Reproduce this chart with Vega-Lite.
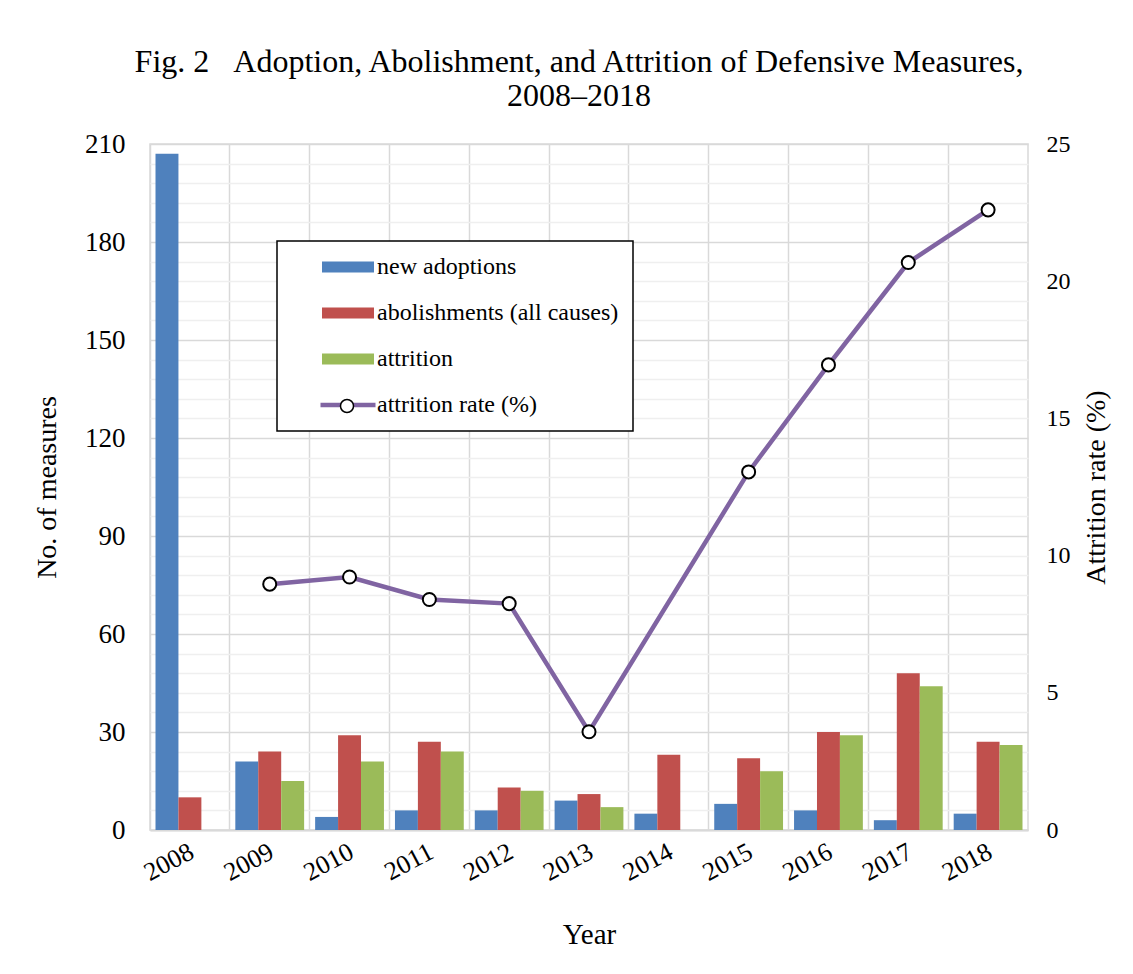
{
  "$schema": "https://vega.github.io/schema/vega-lite/v6.json",
  "autosize": {"type": "none"},
  "padding": {"left": 150, "top": 144, "right": 105, "bottom": 144},
  "width": 878,
  "height": 686,
  "background": "white",
  "title": {
    "text": ["Fig. 2\u00a0\u00a0\u00a0Adoption, Abolishment, and Attrition of Defensive Measures,", "2008\u20132018"],
    "font": "Liberation Serif",
    "fontSize": 32,
    "fontWeight": "normal",
    "color": "black",
    "anchor": "middle",
    "lineHeight": 34,
    "offset": 17,
    "dx": -10
  },
  "config": {
    "view": {"stroke": "#d9d9d9", "strokeWidth": 1.5},
    "axis": {
      "labelFont": "Liberation Serif",
      "titleFont": "Liberation Serif",
      "labelColor": "black",
      "titleColor": "black",
      "titleFontWeight": "normal",
      "ticks": false
    }
  },
  "datasets": {
    "bars": [
      {"year": "2008", "series": "new adoptions", "value": 207},
      {"year": "2008", "series": "abolishments (all causes)", "value": 10},
      {"year": "2009", "series": "new adoptions", "value": 21},
      {"year": "2009", "series": "abolishments (all causes)", "value": 24},
      {"year": "2009", "series": "attrition", "value": 15},
      {"year": "2010", "series": "new adoptions", "value": 4},
      {"year": "2010", "series": "abolishments (all causes)", "value": 29},
      {"year": "2010", "series": "attrition", "value": 21},
      {"year": "2011", "series": "new adoptions", "value": 6},
      {"year": "2011", "series": "abolishments (all causes)", "value": 27},
      {"year": "2011", "series": "attrition", "value": 24},
      {"year": "2012", "series": "new adoptions", "value": 6},
      {"year": "2012", "series": "abolishments (all causes)", "value": 13},
      {"year": "2012", "series": "attrition", "value": 12},
      {"year": "2013", "series": "new adoptions", "value": 9},
      {"year": "2013", "series": "abolishments (all causes)", "value": 11},
      {"year": "2013", "series": "attrition", "value": 7},
      {"year": "2014", "series": "new adoptions", "value": 5},
      {"year": "2014", "series": "abolishments (all causes)", "value": 23},
      {"year": "2015", "series": "new adoptions", "value": 8},
      {"year": "2015", "series": "abolishments (all causes)", "value": 22},
      {"year": "2015", "series": "attrition", "value": 18},
      {"year": "2016", "series": "new adoptions", "value": 6},
      {"year": "2016", "series": "abolishments (all causes)", "value": 30},
      {"year": "2016", "series": "attrition", "value": 29},
      {"year": "2017", "series": "new adoptions", "value": 3},
      {"year": "2017", "series": "abolishments (all causes)", "value": 48},
      {"year": "2017", "series": "attrition", "value": 44},
      {"year": "2018", "series": "new adoptions", "value": 5},
      {"year": "2018", "series": "abolishments (all causes)", "value": 27},
      {"year": "2018", "series": "attrition", "value": 26}
    ],
    "rate": [
      {"year": "2009", "rate": 8.96},
      {"year": "2010", "rate": 9.22},
      {"year": "2011", "rate": 8.4},
      {"year": "2012", "rate": 8.25},
      {"year": "2013", "rate": 3.58},
      {"year": "2015", "rate": 13.05},
      {"year": "2016", "rate": 16.95},
      {"year": "2017", "rate": 20.68},
      {"year": "2018", "rate": 22.6}
    ]
  },
  "encoding": {
    "x": {
      "field": "year",
      "type": "nominal",
      "scale": {"domain": ["2008","2009","2010","2011","2012","2013","2014","2015","2016","2017","2018"], "paddingInner": 0, "paddingOuter": 0},
      "axis": {
        "title": "Year",
        "titleFontSize": 29,
        "titlePadding": 35,
        "labelFontSize": 26,
        "labelAngle": -28,
        "labelAlign": "right",
        "labelBaseline": "top",
        "labelPadding": 8,
        "labelOffset": -4,
        "labelBound": false,
        "grid": true,
        "bandPosition": 0,
        "gridColor": "#d9d9d9",
        "gridWidth": 1.5,
        "domainColor": "#d9d9d9",
        "domainWidth": 2
      }
    }
  },
  "layer": [
    {
      "data": {"name": "bars"},
      "mark": {"type": "bar"},
      "encoding": {
        "xOffset": {
          "field": "series",
          "type": "nominal",
          "scale": {"domain": ["new adoptions", "abolishments (all causes)", "attrition"], "paddingInner": 0, "paddingOuter": 0.24}
        },
        "y": {
          "field": "value",
          "type": "quantitative",
          "scale": {"domain": [0, 210], "nice": false},
          "axis": {
            "title": "No. of measures",
            "titleFontSize": 28,
            "titlePadding": 23,
            "labelFontSize": 27,
            "labelPadding": 25,
            "domain": false,
            "values": [0,6,12,18,24,30,36,42,48,54,60,66,72,78,84,90,96,102,108,114,120,126,132,138,144,150,156,162,168,174,180,186,192,198,204,210],
            "labelExpr": "datum.value % 30 === 0 ? datum.label : ''",
            "grid": true,
            "gridWidth": 1.5,
            "gridColor": {"condition": {"test": "datum.value % 30 === 0", "value": "#d9d9d9"}, "value": "#efefef"}
          }
        },
        "color": {
          "field": "series",
          "type": "nominal",
          "scale": {
            "domain": ["new adoptions", "abolishments (all causes)", "attrition", "attrition rate (%)"],
            "range": ["#4f81bd", "#c0504d", "#9bbb59", "#8064a2"]
          },
          "legend": {
            "title": null,
            "orient": "none",
            "legendX": 127,
            "legendY": 97,
            "strokeColor": "black",
            "fillColor": "white",
            "padding": 14,
            "symbolSize": 400,
            "symbolOffset": 45,
            "labelOffset": 17,
            "rowPadding": 22,
            "labelFont": "Liberation Serif",
            "labelFontSize": 24,
            "labelColor": "black",
            "labelLimit": 400,
            "encode": {
              "legend": {"update": {"strokeWidth": {"value": 1.5}}},
              "symbols": {
                "update": {
                  "shape": {"signal": "datum.value === 'attrition rate (%)' ? 'M-2.75,-0.22H2.75V0.22H-2.75Z' : 'M-2.6,-0.55H2.6V0.55H-2.6Z'"},
                  "fill": {"scale": "color", "field": "value"},
                  "stroke": {"value": "transparent"},
                  "strokeWidth": {"value": 0},
                  "strokeDash": {"value": []},
                  "opacity": {"value": 1},
                  "fillOpacity": {"value": 1}
                }
              }
            }
          }
        }
      }
    },
    {
      "data": {"name": "rate"},
      "mark": {"type": "line", "strokeWidth": 4.5},
      "encoding": {
        "y": {
          "field": "rate",
          "type": "quantitative",
          "scale": {"domain": [0, 25], "nice": false},
          "axis": {
            "orient": "right",
            "title": "Attrition rate (%)",
            "titleFontSize": 28,
            "titleAngle": 270,
            "titleBaseline": "top",
            "titlePadding": 12,
            "labelFontSize": 24,
            "labelPadding": 18,
            "domain": false,
            "grid": false,
            "values": [0, 5, 10, 15, 20, 25]
          }
        },
        "color": {"datum": "attrition rate (%)"}
      }
    },
    {
      "data": {"name": "rate"},
      "mark": {"type": "point", "filled": true, "fill": "white", "stroke": "black", "strokeWidth": 2, "size": 170, "opacity": 1},
      "encoding": {
        "y": {"field": "rate", "type": "quantitative", "scale": {"domain": [0, 25], "nice": false}, "axis": null},
        "shape": {
          "datum": "attrition rate (%)",
          "scale": {"range": ["circle"]},
          "legend": {
            "title": null,
            "orient": "none",
            "legendX": 189.5,
            "legendY": 254.5,
            "padding": 0,
            "symbolSize": 170,
            "labelExpr": "''",
            "labelFontSize": 1,
            "encode": {
              "symbols": {
                "update": {
                  "fill": {"value": "white"},
                  "stroke": {"value": "black"},
                  "strokeWidth": {"value": 2},
                  "opacity": {"value": 1},
                  "fillOpacity": {"value": 1},
                  "strokeOpacity": {"value": 1}
                }
              }
            }
          }
        }
      }
    }
  ],
  "resolve": {"scale": {"y": "independent"}}
}
